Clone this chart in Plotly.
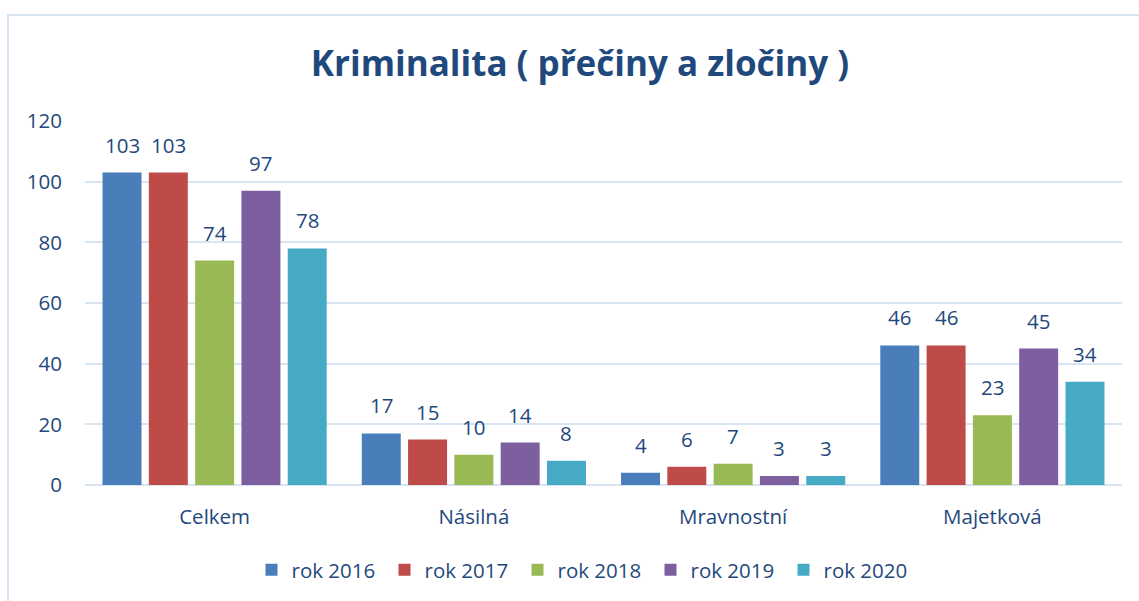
import plotly.graph_objects as go

categories = ["Celkem", "Násilná", "Mravnostní", "Majetková"]
series_names = ["rok 2016", "rok 2017", "rok 2018", "rok 2019", "rok 2020"]
v2016 = [103, 17, 4, 46]
v2017 = [103, 15, 6, 46]
v2018 = [74, 10, 7, 23]
v2019 = [97, 14, 3, 45]
v2020 = [78, 8, 3, 34]
y_ticks = [0, 20, 40, 60, 80, 100, 120]

series_values = [v2016, v2017, v2018, v2019, v2020]
colors = ["#4a7ebb", "#be4b48", "#98b954", "#7d5fa0", "#46aac5"]

W, H = 1139, 601
ML, MR, MT, MB = 85, 17, 121, 116
BARGAP = 0.107
BARGROUPGAP = 0.158
FONT = "'Open Sans', sans-serif"
TXT = "#1F497D"
FS = 20.5

fig = go.Figure()
for name, vals, col in zip(series_names, series_values, colors):
    fig.add_trace(go.Bar(name=name, x=categories, y=vals, marker=dict(color=col, line=dict(width=0))))

# data labels as annotations, offset per series within the group
plot_w = W - ML - MR
cat_w = plot_w / len(categories)
slot = cat_w * (1 - BARGAP) / len(series_values)
n = len(series_values)
for i, vals in enumerate(series_values):
    for c, v in zip(categories, vals):
        fig.add_annotation(x=c, y=v, text=str(v), showarrow=False,
                           xshift=(i - (n - 1) / 2) * slot, yanchor="bottom", yshift=12,
                           font=dict(family=FONT, size=FS, color=TXT))

# outer chart frame
plot_h = H - MT - MB
fig.add_shape(type="rect", xref="paper", yref="paper",
              x0=(8 - ML) / plot_w, x1=(W + 6 - ML) / plot_w,
              y0=-(H + 6 - (H - MB)) / plot_h, y1=1 + (MT - 15) / plot_h,
              line=dict(color="#d9e4f2", width=2), layer="below")

fig.update_layout(
    width=W, height=H,
    margin=dict(l=ML, r=MR, t=MT, b=MB, autoexpand=False),
    paper_bgcolor="white", plot_bgcolor="white",
    barmode="group", bargap=BARGAP, bargroupgap=BARGROUPGAP,
    font=dict(family=FONT, size=FS, color=TXT),
    title=dict(text="<b>Kriminalita ( přečiny a zločiny )</b>", x=580 / W, xref="container",
               xanchor="center", y=1 - 64 / H, yref="container", yanchor="middle",
               font=dict(family=FONT, size=35, color="#1F497D")),
    legend=dict(orientation="h", x=(584 - ML) / plot_w, xanchor="center",
                y=-(570 - (H - MB)) / plot_h, yanchor="middle",
                font=dict(family=FONT, size=FS, color=TXT),
                traceorder="normal", entrywidth=88, entrywidthmode="pixels"),
    showlegend=True,
)
fig.update_xaxes(showgrid=False, showline=False, ticks="", ticklabelstandoff=17,
                 tickfont=dict(family=FONT, size=FS, color=TXT))
fig.update_yaxes(range=[0, 120], tickvals=y_ticks, showgrid=True, gridcolor="#d9e4f2", gridwidth=2,
                 zeroline=True, zerolinecolor="#d9e4f2", zerolinewidth=2,
                 showline=False, ticks="", ticklabelstandoff=22,
                 tickfont=dict(family=FONT, size=FS, color=TXT))

fig.write_html("out.html", config={"displayModeBar": False})

with open("out.html", encoding="utf-8") as f:
    html = f.read()
html = html.replace("<body>", "<body style=\"margin:0;padding:0\">", 1)
with open("out.html", "w", encoding="utf-8") as f:
    f.write(html)
